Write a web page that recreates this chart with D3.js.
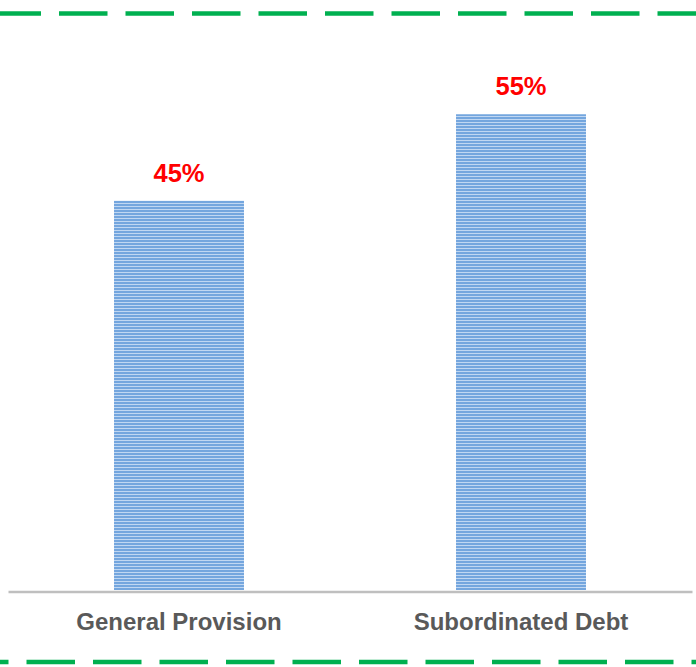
<!DOCTYPE html>
<html>
<head>
<meta charset="utf-8">
<script src="https://cdn.jsdelivr.net/npm/d3@7"></script>
<style>
  html, body { margin: 0; padding: 0; background: #fff; }
  svg { display: block; }
</style>
</head>
<body>
<svg id="chart"></svg>
<script>
(function () {
  // Data
  var categories = ['General Provision', 'Subordinated Debt']
  var shares = [0.45, 0.55]
  var shareLabels = ['45%', '55%']

  var WIDTH = 696
  var HEIGHT = 667
  var GREEN = '#00B050'

  var svg = d3.select('#chart')
    .attr('width', WIDTH)
    .attr('height', HEIGHT)

  // striped fill for the bars
  var defs = svg.append('defs')
  var pat = defs.append('pattern')
    .attr('id', 'stripes')
    .attr('patternUnits', 'userSpaceOnUse')
    .attr('width', 8)
    .attr('height', 3)
  pat.append('rect').attr('width', 8).attr('height', 3).attr('fill', '#74A6DE')
  pat.append('rect').attr('y', 2).attr('width', 8).attr('height', 1).attr('fill', '#C0D7F2')

  var x = d3.scaleBand()
    .domain(categories)
    .range([8, 692])
    .paddingInner(0.62)
    .paddingOuter(0.31)

  var y = d3.scaleLinear()
    .domain([0, 0.6])
    .range([590, 71])

  // dashed frame lines
  svg.append('line')
    .attr('x1', 0).attr('x2', WIDTH)
    .attr('y1', 13.5).attr('y2', 13.5)
    .attr('stroke', GREEN)
    .attr('stroke-width', 4.5)
    .attr('stroke-dasharray', '48.5 18')
    .attr('stroke-dashoffset', 7.5)

  svg.append('line')
    .attr('x1', 0).attr('x2', WIDTH)
    .attr('y1', 662).attr('y2', 662)
    .attr('stroke', GREEN)
    .attr('stroke-width', 4.5)
    .attr('stroke-dasharray', '48.5 18')
    .attr('stroke-dashoffset', 40)

  // bars
  svg.append('g')
    .selectAll('rect')
    .data(shares)
    .enter().append('rect')
    .attr('x', function (d, i) { return x(categories[i]) })
    .attr('width', x.bandwidth())
    .attr('y', function (d) { return y(d) })
    .attr('height', function (d) { return y(0) - y(d) })
    .attr('fill', 'url(#stripes)')

  // value labels
  svg.append('g')
    .selectAll('text')
    .data(shares)
    .enter().append('text')
    .attr('x', function (d, i) { return x(categories[i]) + x.bandwidth() / 2 })
    .attr('y', function (d) { return y(d) - 19 })
    .attr('text-anchor', 'middle')
    .attr('font-family', 'Liberation Sans, Arial, sans-serif')
    .attr('font-weight', 'bold')
    .attr('font-size', 25.5)
    .attr('fill', '#FF0000')
    .text(function (d, i) { return shareLabels[i] })

  // category axis
  var axis = svg.append('g')
    .attr('transform', 'translate(0,' + 591.5 + ')')
    .call(d3.axisBottom(x).tickSize(0).tickPadding(0))
  axis.select('.domain')
    .attr('stroke', '#BFBFBF')
    .attr('stroke-width', 2.5)
  axis.selectAll('.tick text')
    .attr('y', 38)
    .attr('dy', 0)
    .attr('font-family', 'Liberation Sans, Arial, sans-serif')
    .attr('font-weight', 'bold')
    .attr('font-size', 24)
    .attr('fill', '#595959')
})()
</script>
</body>
</html>
